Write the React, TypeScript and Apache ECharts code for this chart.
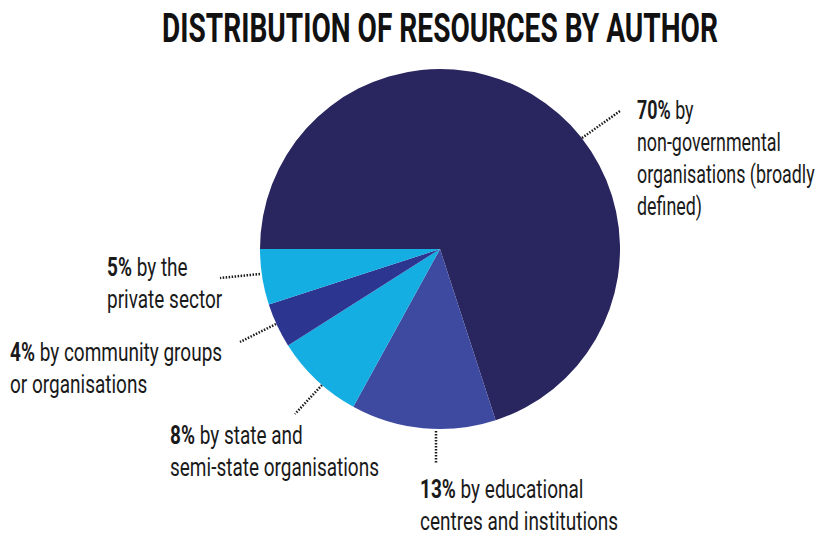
import React, { useEffect, useRef } from "react";
import * as echarts from "echarts";

const categories = [
  "non-governmental organisations (broadly defined)",
  "educational centres and institutions",
  "state and semi-state organisations",
  "community groups or organisations",
  "the private sector",
];
const values = [70, 13, 8, 4, 5];
const labelTexts = [
  "{p|70%} by\nnon-governmental\norganisations (broadly\ndefined)",
  "{p|13%} by educational\ncentres and institutions",
  "{p|8%} by state and\nsemi-state organisations",
  "{p|4%} by community groups\nor organisations",
  "{p|5%} by the\nprivate sector",
];
const colors = ["#29255f", "#3e4a9f", "#14aee3", "#2c3590", "#14aee3"];
const titleText = "DISTRIBUTION OF RESOURCES BY AUTHOR";

// label placement (text top-left), horizontal compression, and leader lines
const labelPos = [
  [637, 94],
  [420, 473],
  [170, 419],
  [10, 336],
  [107, 251],
];
const labelScale = [0.715, 0.76, 0.76, 0.76, 0.76];
const leaderLines = [
  [[582, 138], [620, 111]],
  [[436, 431], [436, 464]],
  [[322, 385], [295, 414]],
  [[276, 324], [240, 342]],
  [[260, 274], [220, 278]],
];

const FONT = "Roboto, 'Noto Sans', sans-serif";
const TITLE_SCALE = 0.685;

export default function App() {
  const ref = useRef<HTMLDivElement>(null);
  useEffect(() => {
    document.body.style.margin = "0";
    const chart = echarts.init(ref.current!, undefined, { renderer: "svg" });
    const labelGraphics = labelTexts.map((t, i) => ({
      type: "text",
      x: labelPos[i][0],
      y: labelPos[i][1],
      scaleX: labelScale[i],
      silent: true,
      style: {
        text: t,
        fontFamily: FONT,
        fontSize: 25,
        lineHeight: 32,
        fill: "#1a1a1a",
        textAlign: "left",
        textVerticalAlign: "top",
        rich: {
          p: {
            fontFamily: FONT,
            fontSize: 25,
            fontWeight: "bold",
            lineHeight: 32,
            fill: "#1a1a1a",
          },
        },
      },
    }));
    const lineGraphics = leaderLines.map((l) => ({
      type: "line",
      silent: true,
      shape: { x1: l[0][0], y1: l[0][1], x2: l[1][0], y2: l[1][1] },
      style: { stroke: "#1a1a1a", lineWidth: 2.5, lineDash: [1.5, 1.5] },
    }));
    chart.setOption({
      animation: false,
      backgroundColor: "#ffffff",
      graphic: [
        {
          type: "text",
          x: 440,
          y: 28,
          scaleX: TITLE_SCALE,
          style: {
            text: titleText,
            fontFamily: FONT,
            fontSize: 41,
            fontWeight: "bold",
            fill: "#111111",
            textAlign: "center",
            textVerticalAlign: "middle",
          },
        },
        ...labelGraphics,
        ...lineGraphics,
      ],
      series: [
        {
          type: "pie",
          center: [440, 249],
          radius: [0, 180],
          startAngle: 180,
          clockwise: true,
          silent: true,
          itemStyle: { borderWidth: 0 },
          label: { show: false },
          labelLine: { show: false },
          data: values.map((v, i) => ({
            name: categories[i],
            value: v,
            itemStyle: { color: colors[i] },
          })),
        },
      ],
    });
    return () => chart.dispose();
  }, []);
  return <div ref={ref} style={{ width: 821, height: 536 }} />;
}
